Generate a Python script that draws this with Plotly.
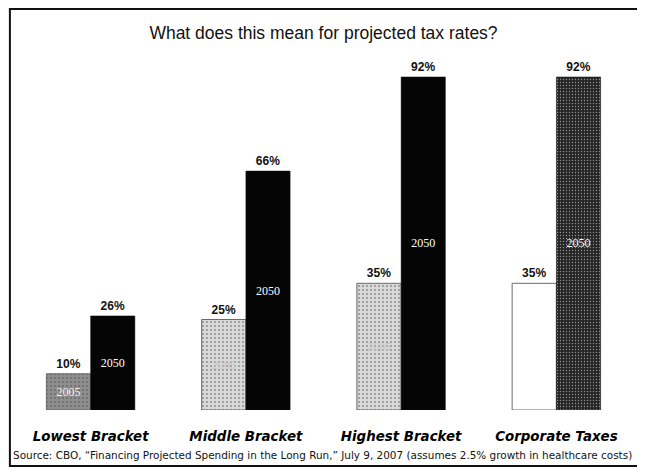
import plotly.graph_objects as go

# ── Data ──────────────────────────────────────────────────────────────────────
categories = ["Lowest Bracket", "Middle Bracket", "Highest Bracket", "Corporate Taxes"]
rate_2005 = [10, 25, 35, 35]
rate_2050 = [26, 66, 92, 92]
year_labels_2005 = ["2005", "2005", "2005", ""]
year_labels_2050 = ["2050", "2050", "2050", "2050"]

TITLE = "What does this mean for projected tax rates?"
SOURCE = ("Source: CBO, \u201cFinancing Projected Spending in the Long Run,\u201d "
          "July 9, 2007 (assumes 2.5% growth in healthcare costs)")

# ── Styles ────────────────────────────────────────────────────────────────────
BAR_W = 0.285
FILL_2005 = ["#8e8e8e", "#d9d9d9", "#d9d9d9", "#ffffff"]
SHAPE_2005 = [".", ".", ".", ""]
DOTS_2005 = ["#4a4a4a", "#a8a8a8", "#a8a8a8", "#ffffff"]
INNER_2005 = ["#f2f2f2", "#c4c4c4", "#c4c4c4", "#ffffff"]
FILL_2050 = ["#050505", "#050505", "#050505", "#262626"]
SHAPE_2050 = ["", "", "", "."]

PCT_FONT = dict(family="Liberation Sans, Arial, sans-serif", size=12, color="#111111")
SERIF = "Liberation Serif, Times New Roman, serif"

# the page body adds an 8px offset, so the figure is 8px smaller than the window
W, H = 637, 466

fig = go.Figure()

# filled bars with the year written inside
fig.add_trace(go.Bar(
    x=categories, y=rate_2005, width=BAR_W, offset=-BAR_W,
    marker=dict(
        color=FILL_2005,
        line=dict(color="#6a6a6a", width=1),
        pattern=dict(shape=SHAPE_2005, size=4, solidity=0.2,
                     fgcolor=DOTS_2005, fillmode="overlay"),
    ),
    text=year_labels_2005, textposition="inside", insidetextanchor="middle",
    textangle=0, insidetextfont=dict(family=SERIF, size=12, color=INNER_2005),
    hoverinfo="skip", showlegend=False,
))
fig.add_trace(go.Bar(
    x=categories, y=rate_2050, width=BAR_W, offset=0,
    marker=dict(
        color=FILL_2050,
        line=dict(color="#111111", width=0.5),
        pattern=dict(shape=SHAPE_2050, size=3, solidity=0.15,
                     fgcolor="#5e5e5e", fillmode="overlay"),
    ),
    text=year_labels_2050, textposition="inside", insidetextanchor="middle",
    textangle=0, insidetextfont=dict(family=SERIF, size=12, color="#ffffff"),
    hoverinfo="skip", showlegend=False,
))

# transparent copies carrying the percentage labels on top
for vals, off in ((rate_2005, -BAR_W), (rate_2050, 0)):
    fig.add_trace(go.Bar(
        x=categories, y=vals, width=BAR_W, offset=off,
        marker=dict(color="rgba(0,0,0,0)", line=dict(width=0)),
        text=[f"<b>{v}%</b>" for v in vals], textposition="outside",
        textangle=0, outsidetextfont=PCT_FONT, cliponaxis=False,
        hoverinfo="skip", showlegend=False,
    ))

# ── Layout ────────────────────────────────────────────────────────────────────
fig.update_layout(
    width=W, height=H,
    barmode="overlay",
    paper_bgcolor="#ffffff", plot_bgcolor="#ffffff",
    margin=dict(l=5, r=11, t=40, b=64),
    title=dict(
        text=TITLE, xref="paper", x=0.5, xanchor="center",
        y=1 - 25 / H, yanchor="middle",
        font=dict(family="Liberation Sans, Arial, sans-serif", size=17.5, color="#111111"),
    ),
    xaxis=dict(
        showgrid=False, zeroline=False, showline=False, ticks="",
        ticklabelstandoff=17,
        tickfont=dict(family="DejaVu Sans, Verdana, sans-serif", size=13.4,
                      color="#000000", weight="bold", style="italic"),
    ),
    yaxis=dict(visible=False, range=[0, 100]),
    annotations=[dict(
        text=SOURCE, xref="paper", yref="paper", x=-0.003, y=-0.124,
        xanchor="left", yanchor="middle", showarrow=False,
        font=dict(family="DejaVu Sans, Tahoma, sans-serif", size=10.45, color="#111111"),
    )],
    shapes=[dict(
        type="rect", xref="paper", yref="paper",
        x0=-0.005, x1=1.008, y0=-0.155, y1=1.108,
        line=dict(color="#111111", width=2), fillcolor="rgba(0,0,0,0)",
    )],
)

fig.write_html("out.html")
